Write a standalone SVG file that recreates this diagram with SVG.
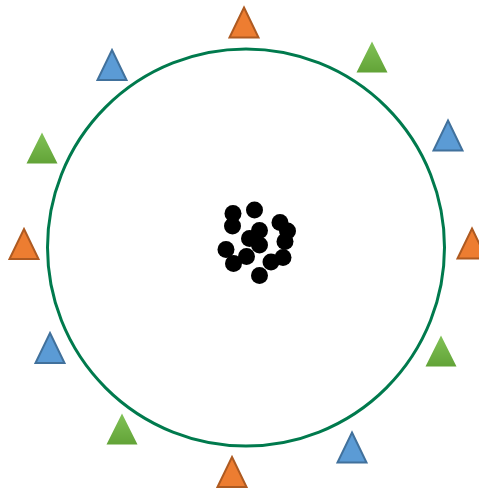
<svg xmlns="http://www.w3.org/2000/svg" width="479" height="490" viewBox="0 0 479 490">
<style>
.o{fill:#ED7D31;stroke:#AE5A21;stroke-width:2;stroke-linejoin:miter}
.b{fill:#5B9BD5;stroke:#41719C;stroke-width:2;stroke-linejoin:miter}
.g{fill:url(#gg);stroke:none}
.d{fill:#000}
</style>
<defs>
<linearGradient id="gg" x1="0" y1="0" x2="0" y2="1">
<stop offset="0" stop-color="#81C257"/>
<stop offset="1" stop-color="#62A337"/>
</linearGradient>
<path id="ts" d="M0,-15 L14.5,15 L-14.5,15 Z"/>
<path id="tg" d="M0,-15.5 L15.5,15.5 L-15.5,15.5 Z"/>
</defs>
<rect width="479" height="490" fill="#fff"/>
<g id="boundary">
<circle cx="246" cy="247.5" r="198.5" fill="none" stroke="#007A4D" stroke-width="3"/>
</g>
<g id="triangles">
<use href="#ts" class="o" x="244" y="22.5"/>
<use href="#tg" class="g" x="372" y="57"/>
<use href="#ts" class="b" x="448" y="135.5"/>
<use href="#ts" class="o" x="472" y="243.5"/>
<use href="#tg" class="g" x="441" y="351"/>
<use href="#ts" class="b" x="352" y="447.5"/>
<use href="#ts" class="o" x="232" y="472"/>
<use href="#tg" class="g" x="122" y="429"/>
<use href="#ts" class="b" x="50" y="348"/>
<use href="#ts" class="o" x="24" y="244"/>
<use href="#tg" class="g" x="42" y="148"/>
<use href="#ts" class="b" x="112" y="65"/>
</g>
<g id="cluster">
<circle class="d" cx="233" cy="213.5" r="8.5"/>
<circle class="d" cx="254.5" cy="210" r="8.5"/>
<circle class="d" cx="232.5" cy="226" r="8.5"/>
<circle class="d" cx="280" cy="222.5" r="8.5"/>
<circle class="d" cx="259.5" cy="230.5" r="8.5"/>
<circle class="d" cx="249.5" cy="238.5" r="8.5"/>
<circle class="d" cx="259.5" cy="245" r="8.5"/>
<circle class="d" cx="287.5" cy="231" r="8.5"/>
<circle class="d" cx="285" cy="241.5" r="8.5"/>
<circle class="d" cx="226" cy="249.5" r="8.5"/>
<circle class="d" cx="246.5" cy="256.5" r="8.5"/>
<circle class="d" cx="233.5" cy="263.5" r="8.5"/>
<circle class="d" cx="271" cy="262" r="8.5"/>
<circle class="d" cx="283" cy="257.5" r="8.5"/>
<circle class="d" cx="259.5" cy="275.5" r="8.5"/>
</g>
</svg>
